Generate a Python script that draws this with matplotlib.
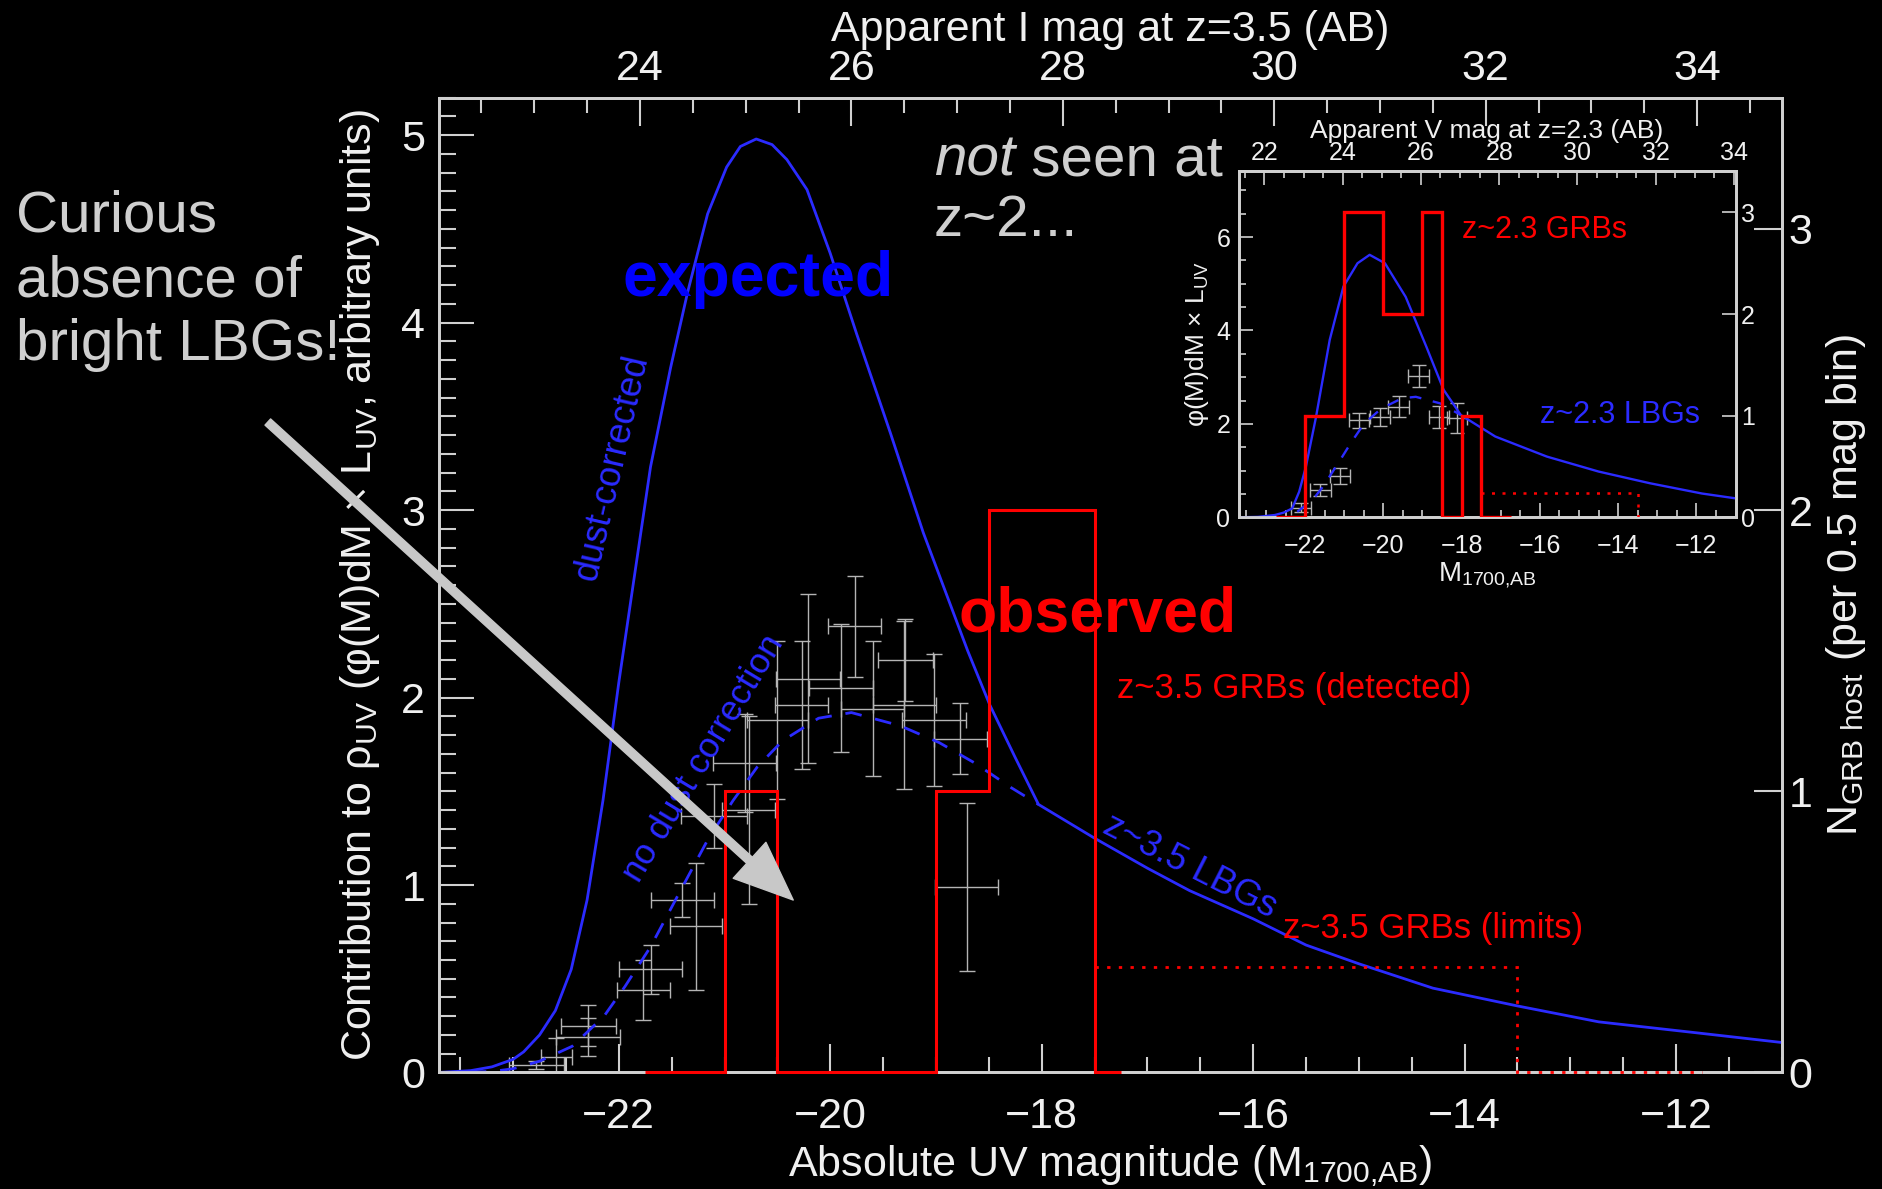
#!/usr/bin/env python3
# Wkład LBG/GRB do gęstości UV przy z~3.5 (z wstawką dla z~2.3).
import matplotlib
matplotlib.use("Agg")
import matplotlib.pyplot as plt
from matplotlib.ticker import MultipleLocator

# --- dane: z~3.5, krzywe LBG (oś lewa) ---
lbg35_dust_M = [-23.70, -23.40, -23.20, -23.00, -22.90, -22.75, -22.60, -22.45, -22.30, -22.15,
                -22.00, -21.87, -21.70, -21.51, -21.35, -21.16, -20.98, -20.85, -20.70, -20.55,
                -20.41, -20.22, -20.00, -19.75, -19.43, -19.12, -18.90, -18.70, -18.49, -18.25,
                -18.03, -17.50, -17.00, -16.60, -16.00, -15.50, -15.00, -14.30, -13.50, -12.73,
                -11.78, -11.00]
lbg35_dust_y = [0.00, 0.01, 0.03, 0.07, 0.11, 0.20, 0.33, 0.55, 0.92, 1.45,
                2.08, 2.58, 3.23, 3.76, 4.16, 4.58, 4.83, 4.94, 4.98, 4.95,
                4.87, 4.71, 4.37, 3.94, 3.41, 2.88, 2.55, 2.25, 1.96, 1.68,
                1.43, 1.25, 1.09, 0.97, 0.82, 0.68, 0.58, 0.45, 0.355, 0.27,
                0.21, 0.16]
lbg35_nodust_M = [-23.70, -23.20, -23.00, -22.75, -22.44, -22.14, -21.94, -21.70, -21.53, -21.36,
                  -21.16, -20.92, -20.69, -20.45, -20.11, -19.80, -19.34, -18.97, -18.63, -18.29,
                  -18.03]
lbg35_nodust_y = [0.00, 0.005, 0.02, 0.06, 0.14, 0.30, 0.46, 0.67, 0.85, 1.03,
                  1.24, 1.45, 1.63, 1.77, 1.89, 1.92, 1.85, 1.76, 1.65, 1.52,
                  1.43]

# punkty LBG z~3.5 z błędami
pts35_M = [-19.77, -19.29, -18.77, -18.71, -20.27, -20.21, -19.90, -19.60, -19.02, -19.30, -20.50,
           -20.81, -20.77, -21.10, -21.27, -21.40, -21.70, -21.77, -22.29, -22.29, -22.78, -22.59]
pts35_y = [2.38, 2.20, 1.78, 0.99, 1.96, 2.10, 2.05, 1.94, 1.88, 1.96, 1.88,
           1.65, 1.40, 1.37, 0.78, 0.92, 0.55, 0.44, 0.25, 0.19, 0.04, 0.085]
pts35_xerr = [0.25, 0.26, 0.25, 0.30, 0.25, 0.30, 0.30, 0.30, 0.30, 0.30, 0.29,
              0.30, 0.25, 0.31, 0.25, 0.30, 0.30, 0.25, 0.26, 0.30, 0.26, 0.15]
pts35_yerr = [0.27, 0.22, 0.19, 0.45, 0.34, 0.45, 0.34, 0.36, 0.35, 0.45, 0.42,
              0.26, 0.50, 0.17, 0.34, 0.09, 0.13, 0.16, 0.11, 0.10, 0.02, 0.10]

# histogram GRB z~3.5 (oś prawa, liczba na 0.5 mag)
grb35_edges = [-21.75, -21.0, -20.5, -19.0, -18.5, -17.5, -17.25]
grb35_n = [0, 1, 0, 1, 2, 0]
grb35_lim_edges = [-17.5, -13.5, -11.75]
grb35_lim_n = [0.375, 0]

# --- wstawka z~2.3 ---
lbg23_M = [-23.71, -23.20, -22.77, -22.55, -22.33, -22.15, -21.98, -21.72, -21.37, -21.02,
           -20.66, -20.35, -19.96, -19.43, -18.90, -18.46, -18.02, -17.14, -15.82, -14.50,
           -13.19, -11.86, -11.03]
lbg23_y = [0.0, 0.01, 0.05, 0.10, 0.19, 0.55, 1.08, 2.15, 3.80, 4.94,
           5.44, 5.62, 5.44, 4.72, 3.65, 2.73, 2.19, 1.73, 1.30, 0.98,
           0.73, 0.51, 0.41]
lbg23_nodust_M = [-22.20, -21.81, -21.54, -21.10, -20.84, -20.49, -20.05, -19.52, -19.17, -18.55, -18.02]
lbg23_nodust_y = [0.12, 0.37, 0.66, 1.23, 1.58, 2.01, 2.33, 2.55, 2.58, 2.44, 2.19]

pts23_M = [-22.11, -21.61, -21.10, -20.62, -20.09, -19.61, -19.10, -18.57, -18.11]
pts23_y = [0.21, 0.58, 0.88, 2.08, 2.15, 2.37, 3.03, 2.15, 2.12]
pts23_xerr = [0.26, 0.26, 0.26, 0.26, 0.26, 0.26, 0.26, 0.26, 0.26]
pts23_yerr = [0.09, 0.13, 0.17, 0.16, 0.20, 0.23, 0.24, 0.23, 0.32]

grb23_edges = [-22.75, -22.0, -21.0, -20.0, -19.0, -18.5, -18.0, -17.5, -16.75]
grb23_n = [0, 1, 3, 2, 3, 0, 1, 0]
grb23_lim_M = [-17.5, -13.5, -13.5]
grb23_lim_n = [0.24, 0.24, 0.0]

# przesunięcia skali pozornej jasności (m = M + offset)
I_OFFSET = 45.8
V_OFFSET = 45.04

plt.rcParams['font.family'] = ['Liberation Sans', 'DejaVu Sans']
plt.rcParams['mathtext.fontset'] = 'custom'
plt.rcParams['mathtext.rm'] = 'Liberation Sans'
plt.rcParams['mathtext.it'] = 'Liberation Sans:italic'
plt.rcParams['mathtext.bf'] = 'Liberation Sans:bold'

BG = "black"
FG = "#f0f0f0"
AXC = "#d0d0d0"
TXT_GREY = "#cfcfcf"
BLUE = "#2b2bff"
RED = "#ff0000"
ERR = "#b4b4b4"


def style_spines(a):
    # Jasne ramki na czarnym tle.
    for sp in a.spines.values():
        sp.set_color(AXC)
        sp.set_linewidth(2)


fig = plt.figure(figsize=(18.82, 11.89), dpi=100, facecolor=BG)

# --- główny wykres ---
ax = fig.add_axes([0.2333, 0.098, 0.7134, 0.8198], facecolor=BG)
ax.set_xlim(-23.7, -11.0)
ax.set_ylim(0, 5.2)
ax.xaxis.set_major_locator(MultipleLocator(2))
ax.xaxis.set_minor_locator(MultipleLocator(0.5))
ax.yaxis.set_major_locator(MultipleLocator(1))
ax.yaxis.set_minor_locator(MultipleLocator(0.1))
ax.tick_params(which='both', direction='in', top=False, right=False, color=AXC, width=1.5,
               labelcolor=FG, labelsize=31)
ax.tick_params(axis='x', which='major', length=20, pad=18)
ax.tick_params(axis='x', which='minor', length=11)
ax.tick_params(axis='y', which='major', length=25, pad=10)
ax.tick_params(axis='y', which='minor', length=12)
style_spines(ax)
ax.set_xlabel(r'Absolute UV magnitude (M$_{\rm 1700{,}AB}$)', fontsize=31, color=FG, labelpad=4)
ax.set_ylabel(r'Contribution to ρ$_{\rm UV}$ (φ(M)dM × L$_{\rm UV}$, arbitrary units)',
              fontsize=31, color=FG, labelpad=14)

secax = ax.secondary_xaxis('top', functions=(lambda m: m + I_OFFSET, lambda m: m - I_OFFSET))
secax.xaxis.set_major_locator(MultipleLocator(2))
secax.xaxis.set_minor_locator(MultipleLocator(0.5))
secax.tick_params(which='both', direction='in', color=AXC, width=1.5, labelcolor=FG, labelsize=31)
secax.tick_params(which='major', length=20, pad=6)
secax.tick_params(which='minor', length=11)
style_spines(secax)
secax.set_xlabel('Apparent I mag at z=3.5 (AB)', fontsize=31, color=FG, labelpad=6)

ax.plot(lbg35_dust_M, lbg35_dust_y, color=BLUE, lw=2.0, zorder=3)
ax.plot(lbg35_nodust_M, lbg35_nodust_y, color=BLUE, lw=2.0, dashes=(6, 5), zorder=3)
ax.errorbar(pts35_M, pts35_y, xerr=pts35_xerr, yerr=pts35_yerr, fmt='none', ecolor=ERR,
            elinewidth=1.0, capsize=6, capthick=1.0, zorder=2)

# oś prawa: liczba GRB
ax2 = ax.twinx()
ax2.set_ylim(0, 5.2 / 1.5)
ax2.set_yticks([0, 1, 2, 3])
ax2.tick_params(axis='y', direction='in', length=20, width=1.5, color=AXC, labelcolor=FG,
                labelsize=31, pad=5)
style_spines(ax2)
ax2.set_ylabel(r'N$_{\rm GRB\ host}$ (per 0.5 mag bin)', fontsize=31, color=FG, labelpad=8)
ax2.stairs(grb35_n, grb35_edges, baseline=None, color=RED, lw=2.2, zorder=3, clip_on=False)
ax2.stairs(grb35_lim_n, grb35_lim_edges, baseline=None, color=RED, lw=2.0,
           linestyle=(0, (1.2, 3.0)), zorder=3, clip_on=False)

# napisy w panelu
ax.text(-20.68, 4.14, 'expected', ha='center', va='baseline', fontsize=45, fontweight='bold',
        color='#0000ff')
ax.text(-17.47, 2.35, 'observed', ha='center', va='baseline', fontsize=45, fontweight='bold',
        color=RED)
ax.text(-22.06, 3.23, 'dust-corrected', ha='center', va='center', rotation=77,
        rotation_mode='anchor', fontsize=26, color=BLUE)
ax.text(-21.20, 1.676, 'no dust correction', ha='center', va='center', rotation=59,
        rotation_mode='anchor', fontsize=25.5, color=BLUE)
ax.text(-16.6, 1.10, 'z~3.5 LBGs', ha='center', va='center', rotation=-27,
        rotation_mode='anchor', fontsize=26, color=BLUE)
ax.text(-17.29, 2.0, 'z~3.5 GRBs (detected)', ha='left', va='baseline', fontsize=25, color=RED)
ax.text(-15.72, 0.72, 'z~3.5 GRBs (limits)', ha='left', va='baseline', fontsize=25, color=RED)

# szara strzałka od komentarza
ax2.annotate('', xy=(-20.35, 0.92), xycoords=ax.transData, xytext=(-25.32, 3.47),
             textcoords=ax.transData, annotation_clip=False,
             arrowprops=dict(arrowstyle='simple,head_width=1.4,head_length=1.7,tail_width=0.24',
                             mutation_scale=25, color='#c8c8c8', shrinkA=0, shrinkB=0))

fig.text(16 / 1882, 1 - 190 / 1189, 'Curious\nabsence of\nbright LBGs!', ha='left', va='top',
         fontsize=42, color=TXT_GREY, linespacing=1.24)
t_not = fig.text(934 / 1882, 1 - 175 / 1189, 'not', ha='left', va='baseline', fontsize=42,
                 style='italic', color=TXT_GREY)
ax.annotate(' seen at', xy=(1, 0), xycoords=t_not, ha='left', va='bottom', fontsize=42,
            color=TXT_GREY, annotation_clip=False)
fig.text(934 / 1882, 1 - 236 / 1189, 'z~2...', ha='left', va='baseline', fontsize=42,
         color=TXT_GREY)

# --- wstawka z~2.3 ---
axin = fig.add_axes([0.6581, 0.5649, 0.2641, 0.2915], facecolor=BG)
axin.set_zorder(5)
axin.set_xlim(-23.7, -11.0)
axin.set_ylim(0, 7.42)
axin.xaxis.set_major_locator(MultipleLocator(2))
axin.xaxis.set_minor_locator(MultipleLocator(0.5))
axin.yaxis.set_major_locator(MultipleLocator(2))
axin.yaxis.set_minor_locator(MultipleLocator(0.5))
axin.tick_params(which='both', direction='in', top=False, right=False, color=AXC, width=1.2,
                 labelcolor=FG, labelsize=18)
axin.tick_params(which='major', length=10)
axin.tick_params(which='minor', length=5)
axin.tick_params(axis='x', pad=12)
axin.tick_params(axis='y', pad=6)
style_spines(axin)
axin.set_xlabel(r'M$_{\rm 1700{,}AB}$', fontsize=20, color=FG, labelpad=2)
axin.set_ylabel(r'φ(M)dM × L$_{\rm UV}$', fontsize=19, color=FG, labelpad=4)

secin = axin.secondary_xaxis('top', functions=(lambda m: m + V_OFFSET, lambda m: m - V_OFFSET))
secin.xaxis.set_major_locator(MultipleLocator(2))
secin.xaxis.set_minor_locator(MultipleLocator(0.5))
secin.tick_params(which='both', direction='in', color=AXC, width=1.2, labelcolor=FG, labelsize=18)
secin.tick_params(which='major', length=10, pad=4)
secin.tick_params(which='minor', length=5)
style_spines(secin)
secin.set_xlabel('Apparent V mag at z=2.3 (AB)', fontsize=19, color=FG, labelpad=2)

axin.plot(lbg23_M, lbg23_y, color=BLUE, lw=1.7, zorder=3)
axin.plot(lbg23_nodust_M, lbg23_nodust_y, color=BLUE, lw=1.7, dashes=(5, 5), zorder=3)
axin.errorbar(pts23_M, pts23_y, xerr=pts23_xerr, yerr=pts23_yerr, fmt='none', ecolor=ERR,
              elinewidth=1.0, capsize=5, capthick=1.0, zorder=2)
axin.text(-17.98, 5.97, 'z~2.3 GRBs', ha='left', va='baseline', fontsize=22, color=RED)
axin.text(-16.0, 2.01, 'z~2.3 LBGs', ha='left', va='baseline', fontsize=22, color=BLUE)

axin2 = axin.twinx()
axin2.set_zorder(6)
axin2.set_ylim(0, 3.41)
axin2.set_yticks([0, 1, 2, 3])
axin2.tick_params(axis='y', direction='in', length=10, width=1.2, color=AXC, labelcolor=FG,
                  labelsize=18, pad=4)
style_spines(axin2)
axin2.stairs(grb23_n, grb23_edges, baseline=None, color=RED, lw=2.4, zorder=3)
axin2.plot(grb23_lim_M, grb23_lim_n, color=RED, lw=1.8, linestyle=(0, (1.2, 3.0)), zorder=3)

fig.savefig("out.png", dpi=100, facecolor=BG)
